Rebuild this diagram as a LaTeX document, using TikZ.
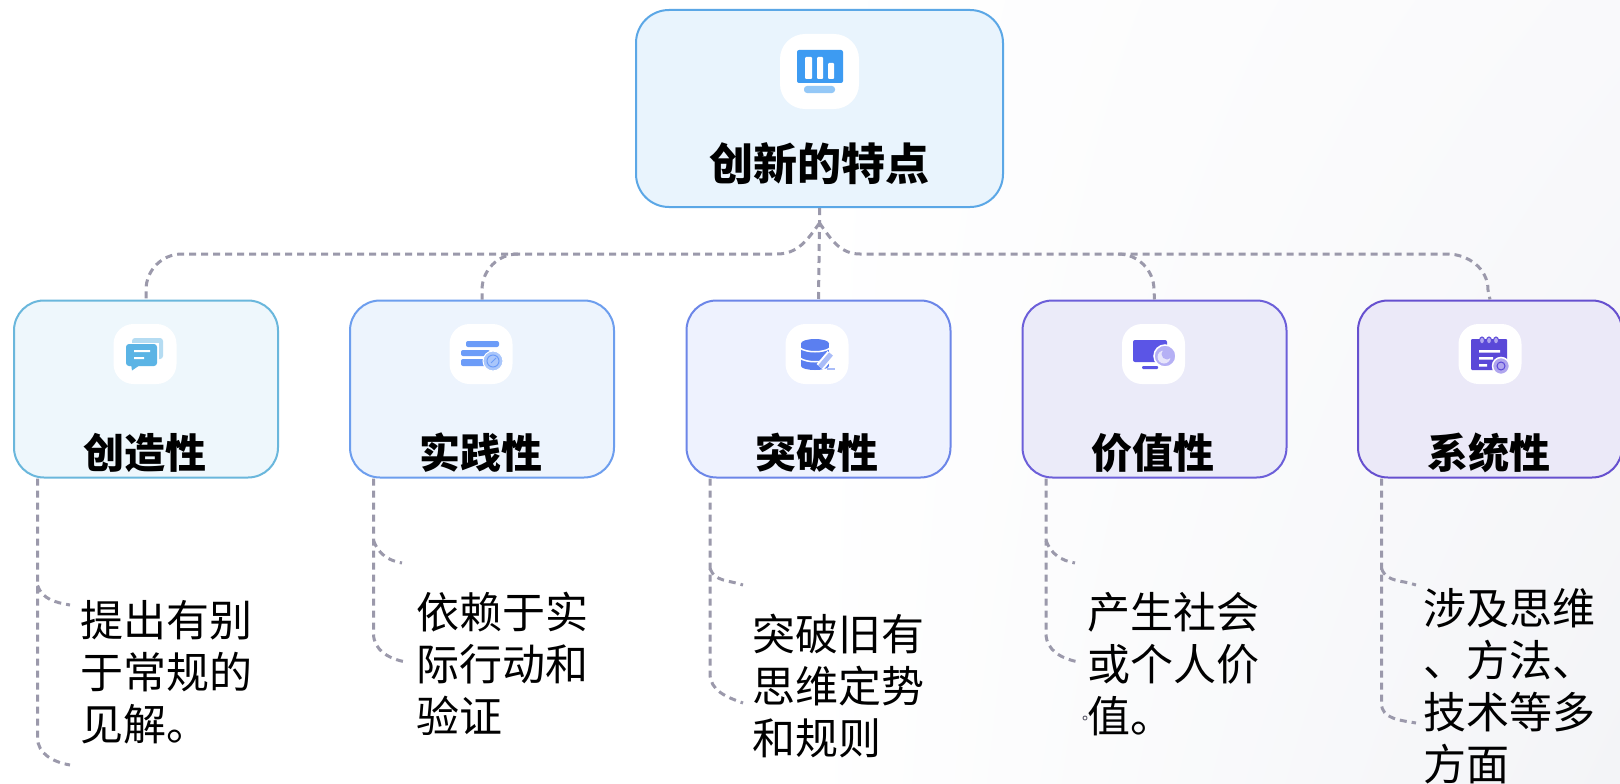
\documentclass[tikz,border=0pt]{standalone}
\usepackage{fontspec}
\setmainfont{Noto Sans CJK SC}
\newfontfamily\heavyfont{Noto Sans CJK SC Black}
\usetikzlibrary{shadings}
\definecolor{linkgray}{HTML}{9B99AB}
\definecolor{edge0}{HTML}{5BA7E6}
\definecolor{fill0}{HTML}{E9F4FD}
\definecolor{edge1}{HTML}{6AB7DC}
\definecolor{fill1}{HTML}{EEF7FC}
\definecolor{edge2}{HTML}{6D9EEE}
\definecolor{fill2}{HTML}{EDF4FD}
\definecolor{edge3}{HTML}{6C86E8}
\definecolor{fill3}{HTML}{EEF2FE}
\definecolor{edge4}{HTML}{6C5FD9}
\definecolor{fill4}{HTML}{EBEBF9}
\definecolor{edge5}{HTML}{6650CF}
\definecolor{fill5}{HTML}{EBE9F8}
\definecolor{icon0}{HTML}{3D9BF2}
\definecolor{pale0}{HTML}{94C8F7}
\definecolor{icon1}{HTML}{5BB4E5}
\definecolor{pale1}{HTML}{B5DCF2}
\definecolor{icon2}{HTML}{6C9CF8}
\definecolor{pale2}{HTML}{A9C6FB}
\definecolor{icon3}{HTML}{5B7FF0}
\definecolor{pale3}{HTML}{A9BCF8}
\definecolor{icon4}{HTML}{5B55E6}
\definecolor{pale4}{HTML}{B5B0F5}
\definecolor{icon5}{HTML}{5A48D8}
\definecolor{pale5}{HTML}{B0A6EE}
\definecolor{pagegray}{HTML}{F3F4F7}
\definecolor{pagelight}{HTML}{F9F9FB}
\begin{document}
\begin{tikzpicture}[
        x=1pt, y=-1pt,
        rootbox/.style={draw=edge0, fill=fill0, line width=2pt, rounded corners=33pt, minimum width=367pt, minimum height=197pt, inner sep=0pt},
        subbox/.style={draw=edge#1, fill=fill#1, line width=2pt, rounded corners=30pt, minimum width=264pt, minimum height=177pt, inner sep=0pt},
        tile/.style={fill=white, rounded corners=20pt, minimum width=63pt, minimum height=60pt, inner sep=0pt},
        title/.style={font=\fontsize{41}{48}\heavyfont, inner sep=0pt},
        body/.style={font=\fontsize{43}{52}\selectfont, align=left, anchor=west, inner sep=0pt},
        link/.style={draw=linkgray, line width=3pt, dash pattern=on 7pt off 5pt}
    ]
    % page and soft background
    \useasboundingbox (0,0) rectangle (1620,784);
    \fill[white] (0,0) rectangle (1620,784);
    \shade[upper left=white, lower left=white, upper right=pagelight, lower right=pagegray] (800,0) rectangle (1620,784);

    % top box
    \node[rootbox] (root) at (819.5,108.5) {};
    \node[tile, rounded corners=25pt, minimum width=79pt, minimum height=75pt] (tile0) at (819.5,71.5) {};
    \node[title, font=\fontsize{44}{50}\heavyfont] (lab0) at (819,164) {创新的特点};

    % five boxes
    \node[subbox=1] (b1) at (146,389) {};
    \node[subbox=2] (b2) at (482,389) {};
    \node[subbox=3] (b3) at (818.5,389) {};
    \node[subbox=4] (b4) at (1154.5,389) {};
    \node[subbox=5] (b5) at (1490,389) {};

    \node[tile] (tile1) at (145,354) {};
    \node[tile] (tile2) at (481,354) {};
    \node[tile] (tile3) at (817,354) {};
    \node[tile] (tile4) at (1153.5,354) {};
    \node[tile] (tile5) at (1490,354) {};

    \node[title] (lab1) at (145,453) {创造性};
    \node[title] (lab2) at (481,453) {实践性};
    \node[title] (lab3) at (817,453) {突破性};
    \node[title] (lab4) at (1153,453) {价值性};
    \node[title] (lab5) at (1489,453) {系统性};

    % text under the boxes
    \node[body] (txt1) at (80,672.5) {提出有别\\于常规的\\见解。};
    \node[body] (txt2) at (416,664) {依赖于实\\际行动和\\验证};
    \node[body] (txt3) at (752,686) {突破旧有\\思维定势\\和规则};
    \node[body] (txt4) at (1087,664) {产生社会\\或个人价\\值。};
    \node[body] (txt5) at (1423,686) {涉及思维\\、方法、\\技术等多\\方面};

    % links from the top box
    \coordinate (fork) at ([yshift=-15pt]root.south);
    \coordinate (fl) at (777,254);
    \coordinate (fr) at (860,254);
    \coordinate (c1) at (182,254);
    \coordinate (c2) at (518,254);
    \coordinate (c4) at (1118,254);
    \coordinate (c5) at (1447,254);
    \draw[link] (root.south) -- (fork) -- (b3.north);
    \draw[link] (fork) to[out=-125,in=0] (fl) -- (c1) to[out=180,in=90] ++(-36,36) -- (b1.north);
    \draw[link] (c2) to[out=180,in=90] ++(-36,36) -- (b2.north);
    \draw[link] (fork) to[out=-55,in=180] (fr) -- (c5) to[out=0,in=90] ++(41,36) -- (b5.north);
    \draw[link] (c4) to[out=0,in=90] ++(36,36) -- (b4.north);

    % links down to the text
    \coordinate (t1) at ([xshift=24.5pt]b1.south west);
    \coordinate (t2) at ([xshift=24.5pt]b2.south west);
    \coordinate (t3) at ([xshift=24.5pt]b3.south west);
    \coordinate (t4) at ([xshift=24.5pt]b4.south west);
    \coordinate (t5) at ([xshift=24.5pt]b5.south west);
    \coordinate (e1a) at (70,605);
    \coordinate (e1b) at (70,765);
    \coordinate (e2a) at (402,563);
    \coordinate (e2b) at (406,662);
    \coordinate (e3a) at (743,585);
    \coordinate (e3b) at (743,703);
    \coordinate (e4a) at (1075,563);
    \coordinate (e4b) at (1079,662);
    \coordinate (e5a) at (1416,585);
    \coordinate (e5b) at (1416,723);
    \draw[link] (t1) -- ++(0,259) to[out=-90,in=170] (e1b);
    \draw[link] (t1) ++(0,107) to[out=-70,in=170] (e1a);
    \draw[link] (t2) -- ++(0,155) to[out=-90,in=170] (e2b);
    \draw[link] (t2) ++(0,62) to[out=-70,in=170] (e2a);
    \draw[link] (t3) -- ++(0,195) to[out=-90,in=160] (e3b);
    \draw[link] (t3) ++(0,90) to[out=-70,in=160] (e3a);
    \draw[link] (t4) -- ++(0,155) to[out=-90,in=170] (e4b);
    \draw[link] (t4) ++(0,62) to[out=-70,in=170] (e4a);
    \draw[link] (t5) -- ++(0,225) to[out=-90,in=170] (e5b);
    \draw[link] (t5) ++(0,90) to[out=-70,in=160] (e5a);
    \draw[linkgray!70!black, line width=1pt] (1085,718) circle (2);

    % icon in the top box
    \fill[icon0, rounded corners=2pt] (797,50) rectangle (843,83);
    \fill[white, rounded corners=1pt] (805,57) rectangle (812,79) (817,57) rectangle (823,79) (828,63) rectangle (834,79);
    \fill[pale0, rounded corners=3pt] (804,86) rectangle (835,93);

    % icon 1
    \fill[pale1, rounded corners=3pt] (132,338) rectangle (163,359);
    \fill[white] (126,342.5) rectangle (159,367);
    \fill[icon1, rounded corners=3pt] (126,344) rectangle (157,366);
    \fill[icon1] (131,364) -- (132,370.5) -- (140,365) -- cycle;
    \fill[white] (134,350) rectangle (150,352) (134,357) rectangle (144,359);

    % icon 2
    \fill[icon2, rounded corners=2pt] (466,341) rectangle (499,347) (461,350) rectangle (490,356) (461,359) rectangle (486,366);
    \filldraw[draw=white, line width=1pt, fill=pale2] (493,361) circle (10);
    \draw[icon2, line width=1pt] (493,361) circle (6);
    \draw[icon2, line width=1pt] (491,363) -- (496,358);

    % icon 3
    \fill[icon3] (801,343.5) rectangle (829,366);
    \fill[icon3] (815,366) ellipse (14 and 4);
    \fill[icon3] (815,343.5) ellipse (14 and 4.5);
    \draw[white, line width=1.5pt] (800,348) .. controls (806,353) and (824,353) .. (830,348);
    \draw[white, line width=1.5pt] (800,358) .. controls (806,363) and (824,363) .. (830,358);
    \draw[white, line width=9pt] (820,367) -- (831,354);
    \draw[pale3, line width=5pt] (820,367) -- (831,354);
    \fill[pale3] (827,367.5) rectangle (835,369.5);

    % icon 4
    \fill[icon4, rounded corners=2pt] (1133,340) rectangle (1167,362);
    \fill[icon4, rounded corners=1pt] (1142,366) rectangle (1158,369);
    \filldraw[draw=white, line width=1.5pt, fill=pale4] (1165,356) circle (11);
    \fill[icon4!15!white] (1164,357) circle (6.5);
    \fill[pale4] (1167,354) circle (5.5);

    % icon 5
    \fill[icon5, rounded corners=1pt] (1471,339) rectangle (1507,370);
    \filldraw[draw=icon5, line width=1pt, fill=pale5] (1482,340.5) ellipse (2.5 and 3.5);
    \filldraw[draw=icon5, line width=1pt, fill=pale5] (1489,340.5) ellipse (2.5 and 3.5);
    \filldraw[draw=icon5, line width=1pt, fill=pale5] (1496,340.5) ellipse (2.5 and 3.5);
    \fill[white] (1479,350) rectangle (1500,352.5) (1479,357) rectangle (1493,359.5) (1479,364) rectangle (1487,366.5);
    \filldraw[draw=white, line width=1.5pt, fill=pale5] (1501,366) circle (8.5);
    \draw[icon5, line width=1pt] (1501,366) circle (4);
\end{tikzpicture}
\end{document}
